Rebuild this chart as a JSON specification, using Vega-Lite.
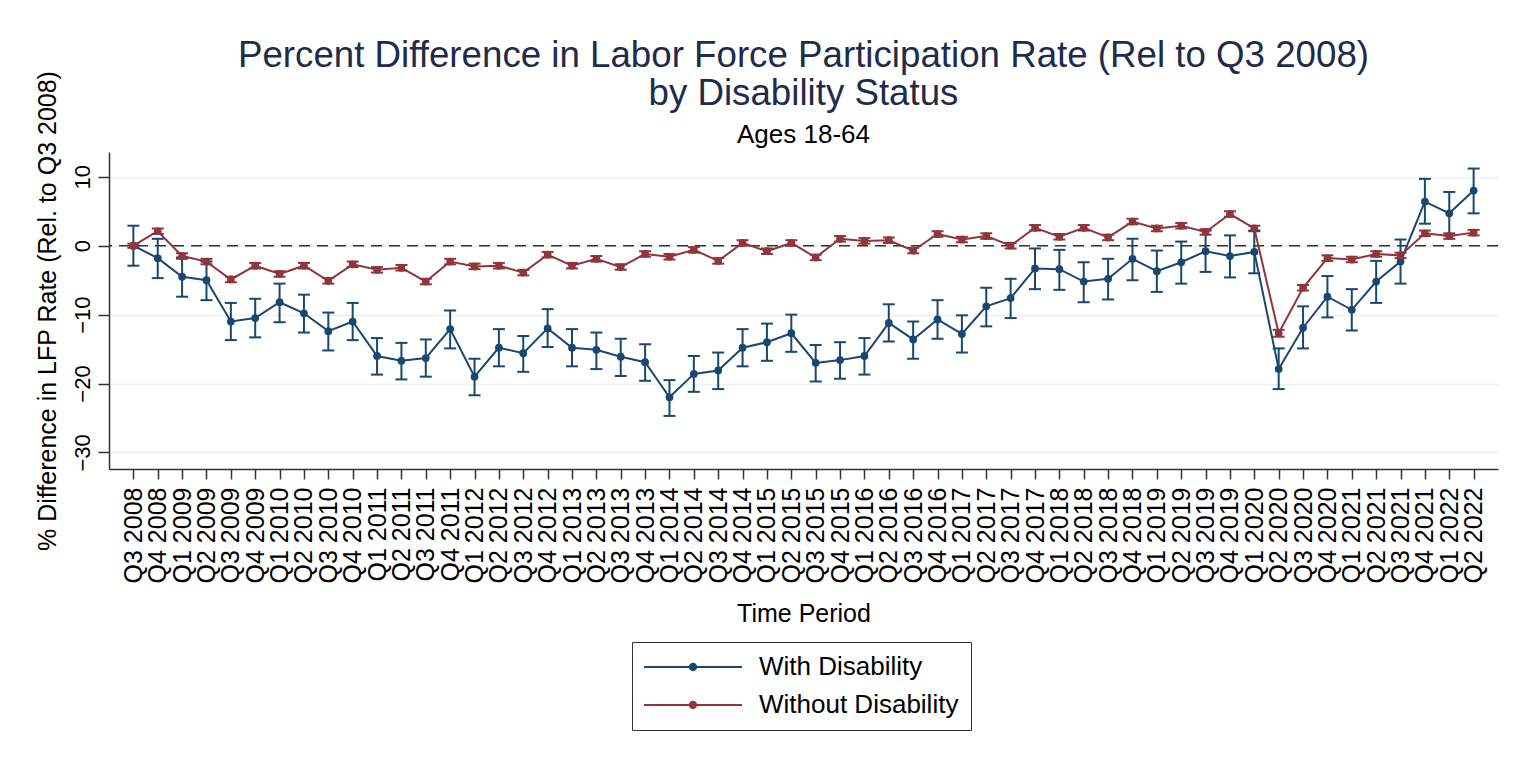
{
  "$schema": "https://vega.github.io/schema/vega-lite/v6.json",
  "width": 1389,
  "height": 317,
  "autosize": {"type": "none"},
  "padding": {"left": 109, "top": 152, "right": 35, "bottom": 292},
  "background": "white",
  "title": {
    "text": ["Percent Difference in Labor Force Participation Rate (Rel to Q3 2008)", "by Disability Status"],
    "subtitle": "Ages 18-64",
    "anchor": "middle",
    "frame": "group",
    "font": "Liberation Sans",
    "fontSize": 36.7,
    "fontWeight": "normal",
    "color": "#1e2b4a",
    "lineHeight": 38,
    "subtitleFont": "Liberation Sans",
    "subtitleFontSize": 26,
    "subtitleColor": "black",
    "subtitleLineHeight": 26,
    "subtitlePadding": 10,
    "offset": -78
  },
  "config": {
    "view": {"stroke": null},
    "font": "Liberation Sans",
    "axisX": {
      "labelAngle": 270, "labelAlign": "right", "labelBaseline": "middle",
      "labelFontSize": 25, "labelPadding": 8, "labelOverlap": false, "labelLimit": 400,
      "tickSize": 10, "tickWidth": 1.5, "tickColor": "#333",
      "domainColor": "#333", "domainWidth": 1.5, "grid": false,
      "labelColor": "black", "titleColor": "black", "titleFontSize": 25,
      "titleFontWeight": "normal", "titlePadding": 19,
      "labelFont": "Liberation Sans", "titleFont": "Liberation Sans"
    },
    "axisY": {
      "labelAngle": 270, "labelAlign": "center", "labelBaseline": "alphabetic",
      "labelFontSize": 22, "labelPadding": 9, "labelOverlap": false,
      "tickSize": 11, "tickWidth": 1.5, "tickColor": "#333",
      "domainColor": "#333", "domainWidth": 1.5,
      "grid": true, "gridColor": "#eaf2f3", "gridWidth": 1.5,
      "labelColor": "black", "titleColor": "black", "titleFontSize": 25,
      "titleFontWeight": "normal", "titlePadding": 11,
      "labelFont": "Liberation Sans", "titleFont": "Liberation Sans"
    }
  },
  "data": {"values": [
    {"p":"Q3 2008","g":"With Disability","v":0,"lo":-2.9,"hi":2.9},
    {"p":"Q4 2008","g":"With Disability","v":-1.8,"lo":-4.7,"hi":1.0},
    {"p":"Q1 2009","g":"With Disability","v":-4.5,"lo":-7.4,"hi":-1.7},
    {"p":"Q2 2009","g":"With Disability","v":-5.0,"lo":-7.9,"hi":-2.3},
    {"p":"Q3 2009","g":"With Disability","v":-11.0,"lo":-13.7,"hi":-8.3},
    {"p":"Q4 2009","g":"With Disability","v":-10.5,"lo":-13.3,"hi":-7.7},
    {"p":"Q1 2010","g":"With Disability","v":-8.2,"lo":-11.1,"hi":-5.5},
    {"p":"Q2 2010","g":"With Disability","v":-9.8,"lo":-12.6,"hi":-7.1},
    {"p":"Q3 2010","g":"With Disability","v":-12.4,"lo":-15.2,"hi":-9.7},
    {"p":"Q4 2010","g":"With Disability","v":-11.0,"lo":-13.7,"hi":-8.3},
    {"p":"Q1 2011","g":"With Disability","v":-16.0,"lo":-18.7,"hi":-13.4},
    {"p":"Q2 2011","g":"With Disability","v":-16.7,"lo":-19.4,"hi":-14.1},
    {"p":"Q3 2011","g":"With Disability","v":-16.3,"lo":-19.0,"hi":-13.6},
    {"p":"Q4 2011","g":"With Disability","v":-12.1,"lo":-14.9,"hi":-9.4},
    {"p":"Q1 2012","g":"With Disability","v":-19.0,"lo":-21.7,"hi":-16.4},
    {"p":"Q2 2012","g":"With Disability","v":-14.8,"lo":-17.5,"hi":-12.1},
    {"p":"Q3 2012","g":"With Disability","v":-15.6,"lo":-18.3,"hi":-13.1},
    {"p":"Q4 2012","g":"With Disability","v":-12.0,"lo":-14.7,"hi":-9.2},
    {"p":"Q1 2013","g":"With Disability","v":-14.8,"lo":-17.5,"hi":-12.1},
    {"p":"Q2 2013","g":"With Disability","v":-15.1,"lo":-17.9,"hi":-12.6},
    {"p":"Q3 2013","g":"With Disability","v":-16.1,"lo":-18.9,"hi":-13.5},
    {"p":"Q4 2013","g":"With Disability","v":-16.9,"lo":-19.6,"hi":-14.3},
    {"p":"Q1 2014","g":"With Disability","v":-22.0,"lo":-24.7,"hi":-19.5},
    {"p":"Q2 2014","g":"With Disability","v":-18.6,"lo":-21.2,"hi":-16.0},
    {"p":"Q3 2014","g":"With Disability","v":-18.1,"lo":-20.8,"hi":-15.5},
    {"p":"Q4 2014","g":"With Disability","v":-14.8,"lo":-17.5,"hi":-12.1},
    {"p":"Q1 2015","g":"With Disability","v":-14.0,"lo":-16.7,"hi":-11.3},
    {"p":"Q2 2015","g":"With Disability","v":-12.7,"lo":-15.4,"hi":-10.0},
    {"p":"Q3 2015","g":"With Disability","v":-17.0,"lo":-19.7,"hi":-14.4},
    {"p":"Q4 2015","g":"With Disability","v":-16.6,"lo":-19.3,"hi":-14.0},
    {"p":"Q1 2016","g":"With Disability","v":-16.0,"lo":-18.7,"hi":-13.4},
    {"p":"Q2 2016","g":"With Disability","v":-11.2,"lo":-13.9,"hi":-8.5},
    {"p":"Q3 2016","g":"With Disability","v":-13.6,"lo":-16.4,"hi":-11.0},
    {"p":"Q4 2016","g":"With Disability","v":-10.7,"lo":-13.5,"hi":-7.9},
    {"p":"Q1 2017","g":"With Disability","v":-12.8,"lo":-15.5,"hi":-10.1},
    {"p":"Q2 2017","g":"With Disability","v":-8.8,"lo":-11.7,"hi":-6.1},
    {"p":"Q3 2017","g":"With Disability","v":-7.6,"lo":-10.5,"hi":-4.8},
    {"p":"Q4 2017","g":"With Disability","v":-3.3,"lo":-6.3,"hi":-0.4},
    {"p":"Q1 2018","g":"With Disability","v":-3.4,"lo":-6.4,"hi":-0.6},
    {"p":"Q2 2018","g":"With Disability","v":-5.2,"lo":-8.2,"hi":-2.4},
    {"p":"Q3 2018","g":"With Disability","v":-4.8,"lo":-7.8,"hi":-1.9},
    {"p":"Q4 2018","g":"With Disability","v":-1.9,"lo":-5.0,"hi":1.0},
    {"p":"Q1 2019","g":"With Disability","v":-3.7,"lo":-6.7,"hi":-0.7},
    {"p":"Q2 2019","g":"With Disability","v":-2.4,"lo":-5.5,"hi":0.6},
    {"p":"Q3 2019","g":"With Disability","v":-0.8,"lo":-3.8,"hi":2.2},
    {"p":"Q4 2019","g":"With Disability","v":-1.5,"lo":-4.6,"hi":1.5},
    {"p":"Q1 2020","g":"With Disability","v":-0.9,"lo":-4.0,"hi":2.2},
    {"p":"Q2 2020","g":"With Disability","v":-17.9,"lo":-20.8,"hi":-14.9},
    {"p":"Q3 2020","g":"With Disability","v":-11.9,"lo":-14.9,"hi":-8.8},
    {"p":"Q4 2020","g":"With Disability","v":-7.4,"lo":-10.4,"hi":-4.4},
    {"p":"Q1 2021","g":"With Disability","v":-9.3,"lo":-12.3,"hi":-6.3},
    {"p":"Q2 2021","g":"With Disability","v":-5.2,"lo":-8.3,"hi":-2.2},
    {"p":"Q3 2021","g":"With Disability","v":-2.3,"lo":-5.5,"hi":0.9},
    {"p":"Q4 2021","g":"With Disability","v":6.4,"lo":3.2,"hi":9.7},
    {"p":"Q1 2022","g":"With Disability","v":4.7,"lo":1.5,"hi":7.8},
    {"p":"Q2 2022","g":"With Disability","v":8.0,"lo":4.7,"hi":11.2},
    {"p":"Q3 2008","g":"Without Disability","v":0,"lo":-0.3,"hi":0.3},
    {"p":"Q4 2008","g":"Without Disability","v":2.1,"lo":1.7,"hi":2.5},
    {"p":"Q1 2009","g":"Without Disability","v":-1.5,"lo":-1.9,"hi":-1.1},
    {"p":"Q2 2009","g":"Without Disability","v":-2.3,"lo":-2.7,"hi":-1.9},
    {"p":"Q3 2009","g":"Without Disability","v":-4.9,"lo":-5.3,"hi":-4.5},
    {"p":"Q4 2009","g":"Without Disability","v":-2.9,"lo":-3.3,"hi":-2.5},
    {"p":"Q1 2010","g":"Without Disability","v":-4.1,"lo":-4.5,"hi":-3.7},
    {"p":"Q2 2010","g":"Without Disability","v":-2.9,"lo":-3.3,"hi":-2.5},
    {"p":"Q3 2010","g":"Without Disability","v":-5.1,"lo":-5.5,"hi":-4.7},
    {"p":"Q4 2010","g":"Without Disability","v":-2.7,"lo":-3.1,"hi":-2.3},
    {"p":"Q1 2011","g":"Without Disability","v":-3.5,"lo":-3.9,"hi":-3.1},
    {"p":"Q2 2011","g":"Without Disability","v":-3.2,"lo":-3.6,"hi":-2.8},
    {"p":"Q3 2011","g":"Without Disability","v":-5.2,"lo":-5.6,"hi":-4.8},
    {"p":"Q4 2011","g":"Without Disability","v":-2.3,"lo":-2.7,"hi":-1.9},
    {"p":"Q1 2012","g":"Without Disability","v":-3.0,"lo":-3.4,"hi":-2.6},
    {"p":"Q2 2012","g":"Without Disability","v":-2.9,"lo":-3.3,"hi":-2.5},
    {"p":"Q3 2012","g":"Without Disability","v":-3.9,"lo":-4.3,"hi":-3.5},
    {"p":"Q4 2012","g":"Without Disability","v":-1.3,"lo":-1.7,"hi":-0.9},
    {"p":"Q1 2013","g":"Without Disability","v":-2.9,"lo":-3.3,"hi":-2.5},
    {"p":"Q2 2013","g":"Without Disability","v":-1.9,"lo":-2.3,"hi":-1.5},
    {"p":"Q3 2013","g":"Without Disability","v":-3.1,"lo":-3.5,"hi":-2.7},
    {"p":"Q4 2013","g":"Without Disability","v":-1.2,"lo":-1.6,"hi":-0.8},
    {"p":"Q1 2014","g":"Without Disability","v":-1.6,"lo":-2.0,"hi":-1.2},
    {"p":"Q2 2014","g":"Without Disability","v":-0.6,"lo":-1.0,"hi":-0.2},
    {"p":"Q3 2014","g":"Without Disability","v":-2.2,"lo":-2.6,"hi":-1.8},
    {"p":"Q4 2014","g":"Without Disability","v":0.4,"lo":0.0,"hi":0.8},
    {"p":"Q1 2015","g":"Without Disability","v":-0.8,"lo":-1.2,"hi":-0.4},
    {"p":"Q2 2015","g":"Without Disability","v":0.4,"lo":0.0,"hi":0.8},
    {"p":"Q3 2015","g":"Without Disability","v":-1.7,"lo":-2.1,"hi":-1.3},
    {"p":"Q4 2015","g":"Without Disability","v":1.0,"lo":0.6,"hi":1.4},
    {"p":"Q1 2016","g":"Without Disability","v":0.7,"lo":0.3,"hi":1.1},
    {"p":"Q2 2016","g":"Without Disability","v":0.8,"lo":0.4,"hi":1.2},
    {"p":"Q3 2016","g":"Without Disability","v":-0.7,"lo":-1.1,"hi":-0.3},
    {"p":"Q4 2016","g":"Without Disability","v":1.7,"lo":1.3,"hi":2.1},
    {"p":"Q1 2017","g":"Without Disability","v":0.9,"lo":0.5,"hi":1.3},
    {"p":"Q2 2017","g":"Without Disability","v":1.4,"lo":1.0,"hi":1.8},
    {"p":"Q3 2017","g":"Without Disability","v":0.0,"lo":-0.4,"hi":0.4},
    {"p":"Q4 2017","g":"Without Disability","v":2.6,"lo":2.2,"hi":3.0},
    {"p":"Q1 2018","g":"Without Disability","v":1.3,"lo":0.9,"hi":1.7},
    {"p":"Q2 2018","g":"Without Disability","v":2.6,"lo":2.2,"hi":3.0},
    {"p":"Q3 2018","g":"Without Disability","v":1.2,"lo":0.8,"hi":1.6},
    {"p":"Q4 2018","g":"Without Disability","v":3.5,"lo":3.1,"hi":3.9},
    {"p":"Q1 2019","g":"Without Disability","v":2.5,"lo":2.1,"hi":2.9},
    {"p":"Q2 2019","g":"Without Disability","v":2.9,"lo":2.5,"hi":3.3},
    {"p":"Q3 2019","g":"Without Disability","v":2.0,"lo":1.6,"hi":2.4},
    {"p":"Q4 2019","g":"Without Disability","v":4.6,"lo":4.2,"hi":5.0},
    {"p":"Q1 2020","g":"Without Disability","v":2.5,"lo":2.1,"hi":2.9},
    {"p":"Q2 2020","g":"Without Disability","v":-12.7,"lo":-13.2,"hi":-12.2},
    {"p":"Q3 2020","g":"Without Disability","v":-6.1,"lo":-6.5,"hi":-5.7},
    {"p":"Q4 2020","g":"Without Disability","v":-1.8,"lo":-2.2,"hi":-1.4},
    {"p":"Q1 2021","g":"Without Disability","v":-2.0,"lo":-2.4,"hi":-1.6},
    {"p":"Q2 2021","g":"Without Disability","v":-1.2,"lo":-1.6,"hi":-0.8},
    {"p":"Q3 2021","g":"Without Disability","v":-1.4,"lo":-1.8,"hi":-1.0},
    {"p":"Q4 2021","g":"Without Disability","v":1.8,"lo":1.4,"hi":2.2},
    {"p":"Q1 2022","g":"Without Disability","v":1.4,"lo":1.0,"hi":1.8},
    {"p":"Q2 2022","g":"Without Disability","v":1.9,"lo":1.5,"hi":2.3}
  ]},
  "layer": [
    {
      "data": {"values": [{}]},
      "mark": {"type": "rule", "color": "#333", "strokeWidth": 1.5, "strokeDash": [11, 7]},
      "encoding": {
        "y": {"datum": 0, "type": "quantitative", "scale": {"domain": [-32.4, 13.6], "nice": false, "zero": false}, "axis": {"title": "% Difference in LFP Rate (Rel. to Q3 2008)", "values": [-30, -20, -10, 0, 10], "labelAngle": 270, "labelAlign": "center", "labelBaseline": "alphabetic"}}
      }
    },
    {
      "mark": {"type": "rule", "strokeWidth": 2},
      "encoding": {
        "x": {"field": "p", "type": "nominal", "sort": null, "scale": {"type": "point", "padding": 1.7}, "title": "Time Period"},
        "y": {"field": "lo", "type": "quantitative", "axis": {"title": "% Difference in LFP Rate (Rel. to Q3 2008)", "values": [-30, -20, -10, 0, 10], "labelAngle": 270, "labelAlign": "center", "labelBaseline": "alphabetic"}},
        "y2": {"field": "hi"},
        "stroke": {"field": "g", "type": "nominal", "scale": {"domain": ["Without Disability", "With Disability"], "range": ["#90353b", "#1a476f"]}, "legend": null}
      }
    },
    {
      "mark": {"type": "tick", "orient": "horizontal", "size": 12, "thickness": 2, "opacity": 1},
      "encoding": {
        "x": {"field": "p", "type": "nominal", "sort": null, "title": "Time Period"},
        "y": {"field": "lo", "type": "quantitative", "axis": {"title": "% Difference in LFP Rate (Rel. to Q3 2008)", "values": [-30, -20, -10, 0, 10], "labelAngle": 270, "labelAlign": "center", "labelBaseline": "alphabetic"}},
        "fill": {"field": "g", "type": "nominal", "scale": {"domain": ["Without Disability", "With Disability"], "range": ["#90353b", "#1a476f"]}, "legend": null}
      }
    },
    {
      "mark": {"type": "tick", "orient": "horizontal", "size": 12, "thickness": 2, "opacity": 1},
      "encoding": {
        "x": {"field": "p", "type": "nominal", "sort": null, "title": "Time Period"},
        "y": {"field": "hi", "type": "quantitative", "axis": {"title": "% Difference in LFP Rate (Rel. to Q3 2008)", "values": [-30, -20, -10, 0, 10], "labelAngle": 270, "labelAlign": "center", "labelBaseline": "alphabetic"}},
        "fill": {"field": "g", "type": "nominal", "legend": null}
      }
    },
    {
      "mark": {"type": "line", "strokeWidth": 2},
      "encoding": {
        "x": {"field": "p", "type": "nominal", "sort": null, "title": "Time Period"},
        "y": {"field": "v", "type": "quantitative", "axis": {"title": "% Difference in LFP Rate (Rel. to Q3 2008)", "values": [-30, -20, -10, 0, 10], "labelAngle": 270, "labelAlign": "center", "labelBaseline": "alphabetic"}},
        "stroke": {"field": "g", "type": "nominal", "legend": null},
        "order": {"value": null}
      }
    },
    {
      "mark": {"type": "circle", "size": 60, "opacity": 1},
      "encoding": {
        "x": {"field": "p", "type": "nominal", "sort": null, "title": "Time Period"},
        "y": {"field": "v", "type": "quantitative", "axis": {"title": "% Difference in LFP Rate (Rel. to Q3 2008)", "values": [-30, -20, -10, 0, 10], "labelAngle": 270, "labelAlign": "center", "labelBaseline": "alphabetic"}},
        "color": {
          "field": "g", "type": "nominal",
          "scale": {"domain": ["With Disability", "Without Disability"], "range": ["#1a476f", "#90353b"]},
          "legend": {
            "orient": "none", "legendX": 523, "legendY": 490, "title": null, "direction": "vertical",
            "symbolType": "M-1,-0.021H1V0.021H-1Z M0.085,0A0.085,0.085,0,1,1,-0.085,0A0.085,0.085,0,1,1,0.085,0Z",
            "symbolSize": 9604, "symbolStrokeWidth": 0, "symbolOpacity": 1, "clipHeight": 26,
            "labelFontSize": 26, "labelFont": "Liberation Sans", "labelColor": "black", "labelOffset": 17, "labelLimit": 400,
            "rowPadding": 12, "padding": 12, "strokeColor": "#333", "fillColor": "white"
          }
        }
      }
    }
  ]
}
